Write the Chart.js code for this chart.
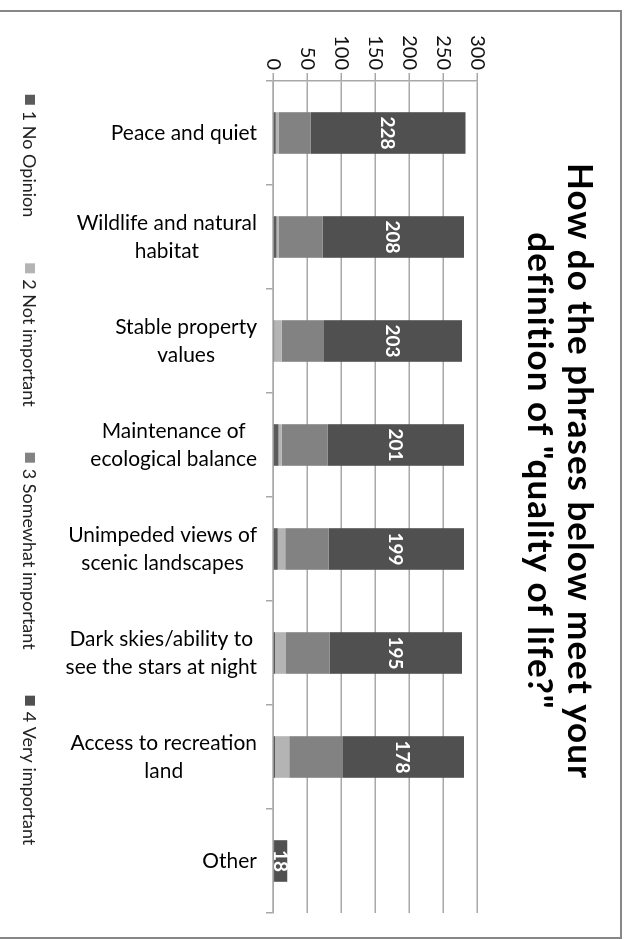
<!DOCTYPE html>
<html>
<head>
<meta charset="utf-8">
<script src="https://cdn.jsdelivr.net/npm/chart.js@4"></script>
<style>
  html, body { margin: 0; padding: 0; background: #fff; overflow: hidden; }
  /* the chart is laid out as a normal column chart, then turned a quarter clockwise */
  #wrap {
    position: absolute; left: 0; top: 0;
    width: 940px; height: 630px;
    transform-origin: 0 0;
    transform: translate(630px, 0) rotate(90deg);
  }
</style>
</head>
<body>
<div id="wrap"><canvas id="qualityChart" width="940" height="630"></canvas></div>
<script>
const categories = [
  'Peace and quiet',
  ['Wildlife and natural', 'habitat'],
  ['Stable property', 'values'],
  ['Maintenance of', 'ecological balance'],
  ['Unimpeded views of', 'scenic landscapes'],
  ['Dark skies/ability to', 'see the stars at night'],
  ['Access to recreation', 'land'],
  'Other'
];
const seriesNames = ['1 No Opinion', '2 Not important', '3 Somewhat important', '4 Very important'];
const noOpinion = [4, 5, 2, 8, 7, 3, 3, 3];
const notImportant = [4, 3, 11, 5, 11, 16, 21, 0];
const somewhatImportant = [47, 65, 62, 67, 64, 64, 79, 0];
const veryImportant = [228, 208, 203, 201, 199, 195, 178, 18];
const seriesColors = ['#5b5b5b', '#b4b4b4', '#828282', '#505050'];
const titleLines = ['How do the phrases below meet your', 'definition of "quality of life?"'];

const gridColor = '#a8a8a8';

// title, legend, rotated category labels, value labels and the frame
const decorations = {
  id: 'decorations',
  afterDraw(chart) {
    const ctx = chart.ctx;
    const area = chart.chartArea;
    const xScale = chart.scales.x;
    ctx.save();

    // category labels, turned so they read upward, lines centred on each other
    ctx.font = '21px Lato';
    ctx.fillStyle = '#000';
    ctx.textBaseline = 'middle';
    ctx.textAlign = 'center';
    categories.forEach((label, i) => {
      const lines = Array.isArray(label) ? label : [label];
      const w = Math.max(...lines.map((l) => ctx.measureText(l).width));
      ctx.save();
      ctx.translate(xScale.getPixelForValue(i), area.bottom + 16);
      ctx.rotate(-Math.PI / 2);
      lines.forEach((l, j) => {
        ctx.fillText(l, -w / 2, (j - (lines.length - 1) / 2) * 28);
      });
      ctx.restore();
    });

    // value labels on the "Very important" segment
    const meta = chart.getDatasetMeta(3);
    ctx.font = 'bold 19px Lato';
    ctx.fillStyle = '#fff';
    meta.data.forEach((bar, i) => {
      ctx.fillText(String(veryImportant[i]), bar.x, (bar.y + bar.base) / 2 + 1);
    });

    // title
    ctx.font = 'bold 35px Lato';
    ctx.letterSpacing = '1px';
    ctx.fillStyle = '#000';
    titleLines.forEach((l, j) => ctx.fillText(l, 471, 51 + j * 40));
    ctx.letterSpacing = '0px';

    // legend
    ctx.font = '18px Lato';
    const box = 10, boxGap = 6, itemGap = 46;
    const widths = seriesNames.map((n) => box + boxGap + ctx.measureText(n).width);
    const total = widths.reduce((a, b) => a + b, 0) + itemGap * (seriesNames.length - 1);
    let lx = 470 - total / 2;
    ctx.textAlign = 'left';
    seriesNames.forEach((n, i) => {
      ctx.fillStyle = seriesColors[i];
      ctx.fillRect(lx, 600 - box / 2, box, box);
      ctx.fillStyle = '#222';
      ctx.fillText(n, lx + box + boxGap, 601);
      lx += widths[i] + itemGap;
    });

    // chart frame
    ctx.strokeStyle = '#878787';
    ctx.lineWidth = 2;
    ctx.beginPath();
    ctx.moveTo(11, 640);
    ctx.lineTo(11, 9);
    ctx.lineTo(938, 9);
    ctx.lineTo(938, 640);
    ctx.stroke();

    ctx.restore();
  }
};

Chart.defaults.font.family = 'Lato';

const data = {
  labels: categories,
  datasets: [
    { label: seriesNames[0], data: noOpinion, backgroundColor: seriesColors[0] },
    { label: seriesNames[1], data: notImportant, backgroundColor: seriesColors[1] },
    { label: seriesNames[2], data: somewhatImportant, backgroundColor: seriesColors[2] },
    { label: seriesNames[3], data: veryImportant, backgroundColor: seriesColors[3] }
  ]
};

const config = {
  type: 'bar',
  data,
  options: {
    responsive: false,
    animation: false,
    barPercentage: 0.4,
    categoryPercentage: 1,
    borderWidth: 0,
    layout: { padding: { left: 31, top: 153, right: 27, bottom: 265 } },
    scales: {
      x: {
        stacked: true,
        ticks: { display: false },
        grid: { offset: true, drawOnChartArea: false, tickLength: 7, color: gridColor, lineWidth: 1.5 },
        border: { color: gridColor, width: 1.5 },
        afterFit: (scale) => { scale.height = 8; }
      },
      y: {
        stacked: true,
        min: 0,
        max: 300,
        ticks: { stepSize: 50, padding: 3, color: '#111', font: { size: 20 } },
        grid: { color: gridColor, lineWidth: 1.5, tickLength: 8 },
        border: { color: gridColor, width: 1.5 },
        afterFit: (scale) => { scale.width = 50; }
      }
    },
    plugins: {
      legend: { display: false },
      title: { display: false },
      tooltip: { enabled: false }
    }
  },
  plugins: [decorations]
};

new Chart(document.getElementById('qualityChart'), config);
</script>
</body>
</html>
